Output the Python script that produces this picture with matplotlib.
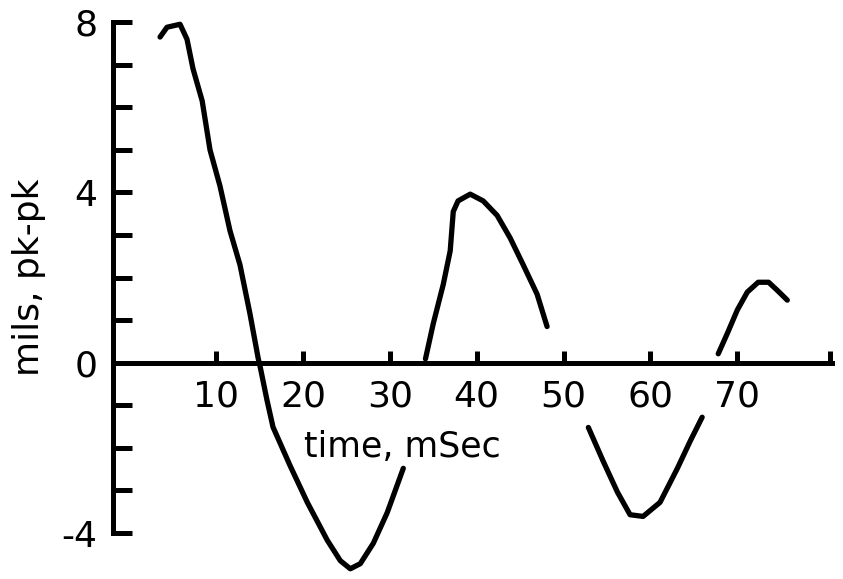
import numpy as np
import matplotlib
matplotlib.use('Agg')
import matplotlib.pyplot as plt

plt.rcParams['axes.unicode_minus'] = False

# curve pieces (time in mSec, mils pk-pk)
t1 = [3.55, 4.35, 5.85, 6.65, 7.35, 8.4, 9.3, 10.45, 11.6, 12.75, 13.9, 14.85, 15.05,
      15.85, 16.55, 18.5, 20.5, 22.8, 24.3, 25.45, 26.6, 28.1, 29.7, 31.55]
y1 = [7.65, 7.88, 7.95, 7.6, 6.9, 6.15, 5.0, 4.15, 3.1, 2.3, 1.15, 0.1, -0.07,
      -0.87, -1.51, -2.41, -3.28, -4.17, -4.65, -4.84, -4.72, -4.24, -3.52, -2.48]

t2 = [34.1, 35.0, 36.15, 36.95, 37.3, 37.85, 39.25, 40.75, 42.35, 43.85, 45.35, 46.95, 48.1]
y2 = [0.09, 0.92, 1.84, 2.63, 3.55, 3.8, 3.96, 3.8, 3.46, 2.93, 2.3, 1.61, 0.85]

t3 = [52.85, 54.55, 56.2, 57.65, 59.15, 61.1, 63.1, 64.6, 65.95]
y3 = [-1.52, -2.31, -3.04, -3.57, -3.61, -3.28, -2.48, -1.83, -1.28]

t4 = [67.8, 68.85, 70.0, 71.15, 72.4, 73.6, 74.6, 75.75]
y4 = [0.21, 0.69, 1.24, 1.66, 1.89, 1.89, 1.7, 1.47]

xticks = [10, 20, 30, 40, 50, 60, 70]
yticks = [-4, 0, 4, 8]
yminor = [-3, -2, -1, 1, 2, 3, 5, 6, 7]

fig = plt.figure(figsize=(8.43, 5.79), dpi=100)
ax = fig.add_axes([0.134, 0.0, 0.853, 1.0])

for t, y in [(t1, y1), (t2, y2), (t3, y3), (t4, y4)]:
    ax.plot(t, y, color='black', lw=3.8, solid_capstyle='round', solid_joinstyle='round')

ax.set_xlim(-1.87, 80.9)
ax.set_ylim(-5.08, 8.52)

ax.spines['top'].set_visible(False)
ax.spines['right'].set_visible(False)
ax.spines['bottom'].set_position(('data', 0))
ax.spines['left'].set_bounds(-4, 8)
ax.spines['bottom'].set_bounds(-1.87, 80.9)
for s in ['left', 'bottom']:
    ax.spines[s].set_linewidth(3.6)

ax.set_yticks(yticks)
ax.set_yticks(yminor, minor=True)
ax.set_xticks(xticks)
ax.set_xticks([80.7], minor=True)

ax.tick_params(axis='y', which='both', direction='in', length=14, width=3.6, pad=11, labelsize=26)
ax.tick_params(axis='x', which='both', direction='in', length=9, width=3.6, pad=12, labelsize=26)

ax.set_xlabel('time, mSec', fontsize=25, va='center')
ax.xaxis.set_label_coords(0.403, 0.228)
ax.set_ylabel('mils, pk-pk', fontsize=26, va='center')
ax.yaxis.set_label_coords(-0.117, 0.522)

fig.savefig('out.png', dpi=100)
